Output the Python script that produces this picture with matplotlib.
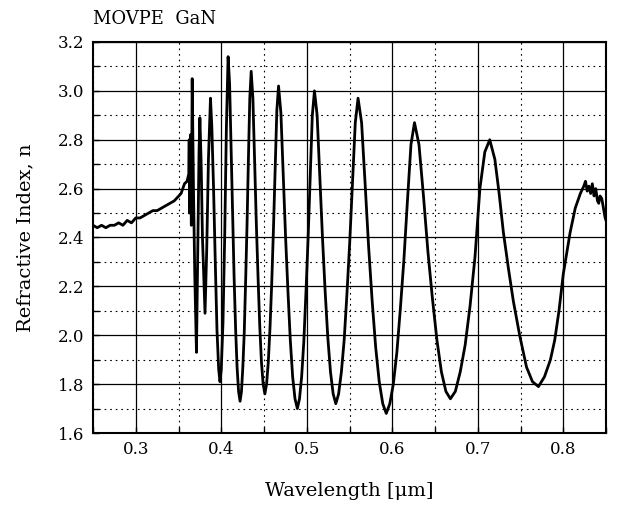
import matplotlib
matplotlib.use("Agg")
import matplotlib.pyplot as plt
from matplotlib.ticker import MultipleLocator

plt.rcParams["font.family"] = ["DejaVu Serif"]

# values
wavelength = [
    # flat part below the band gap
    0.250, 0.255, 0.260, 0.265, 0.270, 0.275, 0.280, 0.285, 0.290, 0.295,
    0.300, 0.305, 0.310, 0.315, 0.320, 0.325, 0.330, 0.335, 0.340, 0.345,
    0.349, 0.353, 0.357, 0.360,
    # dense fringes near the edge
    0.362, 0.3625, 0.363, 0.364, 0.365, 0.366, 0.3675, 0.369, 0.371, 0.3725,
    0.374, 0.375, 0.3765, 0.378, 0.381, 0.383, 0.385, 0.3874, 0.389, 0.391,
    0.393, 0.395, 0.397, 0.3985, 0.400, 0.402, 0.404, 0.406, 0.408,
    0.40975, 0.4115, 0.41325, 0.415, 0.41675, 0.4185, 0.42025, 0.422,
    0.42363, 0.42525, 0.42688, 0.4285, 0.43013, 0.43175, 0.43338, 0.435,
    0.437, 0.439, 0.441, 0.443, 0.445, 0.447, 0.449, 0.451,
    0.453, 0.455, 0.457, 0.459, 0.461, 0.463, 0.465, 0.467,
    0.46975, 0.4725, 0.47525, 0.478, 0.48075, 0.4835, 0.48625, 0.489,
    0.4915, 0.494, 0.4965, 0.499, 0.5015, 0.504, 0.5065, 0.509,
    0.51213, 0.51525, 0.51838, 0.5215, 0.52463, 0.52775, 0.53088, 0.534,
    0.53725, 0.5405, 0.54375, 0.547, 0.55025, 0.5535, 0.55675, 0.560,
    0.56413, 0.56825, 0.57238, 0.5765, 0.58063, 0.58475, 0.58888, 0.593,
    0.59713, 0.60125, 0.60538, 0.6095, 0.61363, 0.61775, 0.62188, 0.626,
    0.63125, 0.6365, 0.64175, 0.647, 0.65225, 0.6575, 0.66275, 0.668,
    0.67375, 0.6795, 0.68525, 0.691, 0.69675, 0.7025, 0.70825, 0.714,
    0.720, 0.725, 0.730, 0.736, 0.7416, 0.749, 0.757, 0.764, 0.771,
    0.778, 0.785, 0.790, 0.795, 0.800, 0.808, 0.814, 0.820, 0.824,
    # noisy top at the long-wavelength end
    0.826, 0.828, 0.830, 0.832, 0.834, 0.836, 0.838, 0.840, 0.8415, 0.843,
    0.845, 0.847, 0.849, 0.850,
]
n_index = [
    2.45, 2.44, 2.45, 2.44, 2.45, 2.45, 2.46, 2.45, 2.47, 2.46,
    2.48, 2.48, 2.49, 2.50, 2.51, 2.51, 2.52, 2.53, 2.54, 2.55,
    2.565, 2.58, 2.62, 2.63,
    2.66, 2.80, 2.50, 2.82, 2.45, 3.05, 2.60, 2.25, 1.93, 2.35,
    2.75, 2.89, 2.70, 2.40, 2.09, 2.35, 2.72, 2.97, 2.85, 2.60,
    2.30, 2.02, 1.86, 1.81, 1.86, 2.05, 2.40, 2.85, 3.14,
    3.03, 2.76, 2.48, 2.24, 2.03, 1.87, 1.77, 1.73,
    1.77, 1.87, 2.01, 2.22, 2.45, 2.72, 2.97, 3.08,
    2.97, 2.72, 2.46, 2.24, 2.04, 1.89, 1.80, 1.76,
    1.80, 1.89, 2.03, 2.21, 2.43, 2.68, 2.92, 3.02,
    2.91, 2.66, 2.40, 2.18, 1.98, 1.83, 1.74, 1.70,
    1.74, 1.83, 1.97, 2.17, 2.39, 2.65, 2.90, 3.00,
    2.90, 2.65, 2.40, 2.18, 1.99, 1.85, 1.76, 1.72,
    1.76, 1.85, 1.98, 2.17, 2.38, 2.63, 2.87, 2.97,
    2.87, 2.62, 2.36, 2.14, 1.95, 1.81, 1.72, 1.68,
    1.72, 1.80, 1.93, 2.11, 2.31, 2.55, 2.78, 2.87,
    2.78, 2.57, 2.34, 2.15, 1.98, 1.85, 1.77, 1.74,
    1.77, 1.85, 1.96, 2.12, 2.32, 2.60, 2.75, 2.80,
    2.72, 2.58, 2.42, 2.27, 2.14, 2.00, 1.87, 1.81, 1.79,
    1.83, 1.90, 1.98, 2.10, 2.25, 2.42, 2.52, 2.58, 2.61,
    2.63, 2.59, 2.61, 2.58, 2.62, 2.57, 2.60, 2.55, 2.54, 2.57,
    2.56, 2.52, 2.48, 2.47,
]
x_ticks = [0.3, 0.4, 0.5, 0.6, 0.7, 0.8]
y_ticks = [1.6, 1.8, 2.0, 2.2, 2.4, 2.6, 2.8, 3.0, 3.2]

fig = plt.figure(figsize=(6.18, 5.09), dpi=100)
ax = fig.add_axes([0.1505, 0.1493, 0.8301, 0.7682])

ax.plot(wavelength, n_index, color="black", lw=2.0)

ax.set_xlim(0.25, 0.85)
ax.set_ylim(1.6, 3.2)
ax.set_xticks(x_ticks)
ax.set_yticks(y_ticks)
ax.xaxis.set_minor_locator(MultipleLocator(0.05))
ax.yaxis.set_minor_locator(MultipleLocator(0.1))
ax.set_xticklabels([f"{t:.1f}" for t in x_ticks])
ax.set_yticklabels([f"{t:.1f}" for t in y_ticks])

ax.grid(which="major", color="black", lw=0.9, ls="-")
ax.grid(which="minor", color="black", lw=0.8, ls=(0, (1.5, 3.5)))
ax.tick_params(which="both", direction="in", length=4, width=1,
               labelsize=12, pad=6)
for s in ax.spines.values():
    s.set_linewidth(1.5)

ax.set_xlabel("Wavelength [\u03bcm]", fontsize=14, labelpad=17)
ax.set_ylabel("Refractive Index, n", fontsize=14, labelpad=17)
ax.text(0.0, 1.035, "MOVPE  GaN", transform=ax.transAxes, fontsize=13,
        ha="left", va="bottom")

fig.savefig("out.png", dpi=100)
